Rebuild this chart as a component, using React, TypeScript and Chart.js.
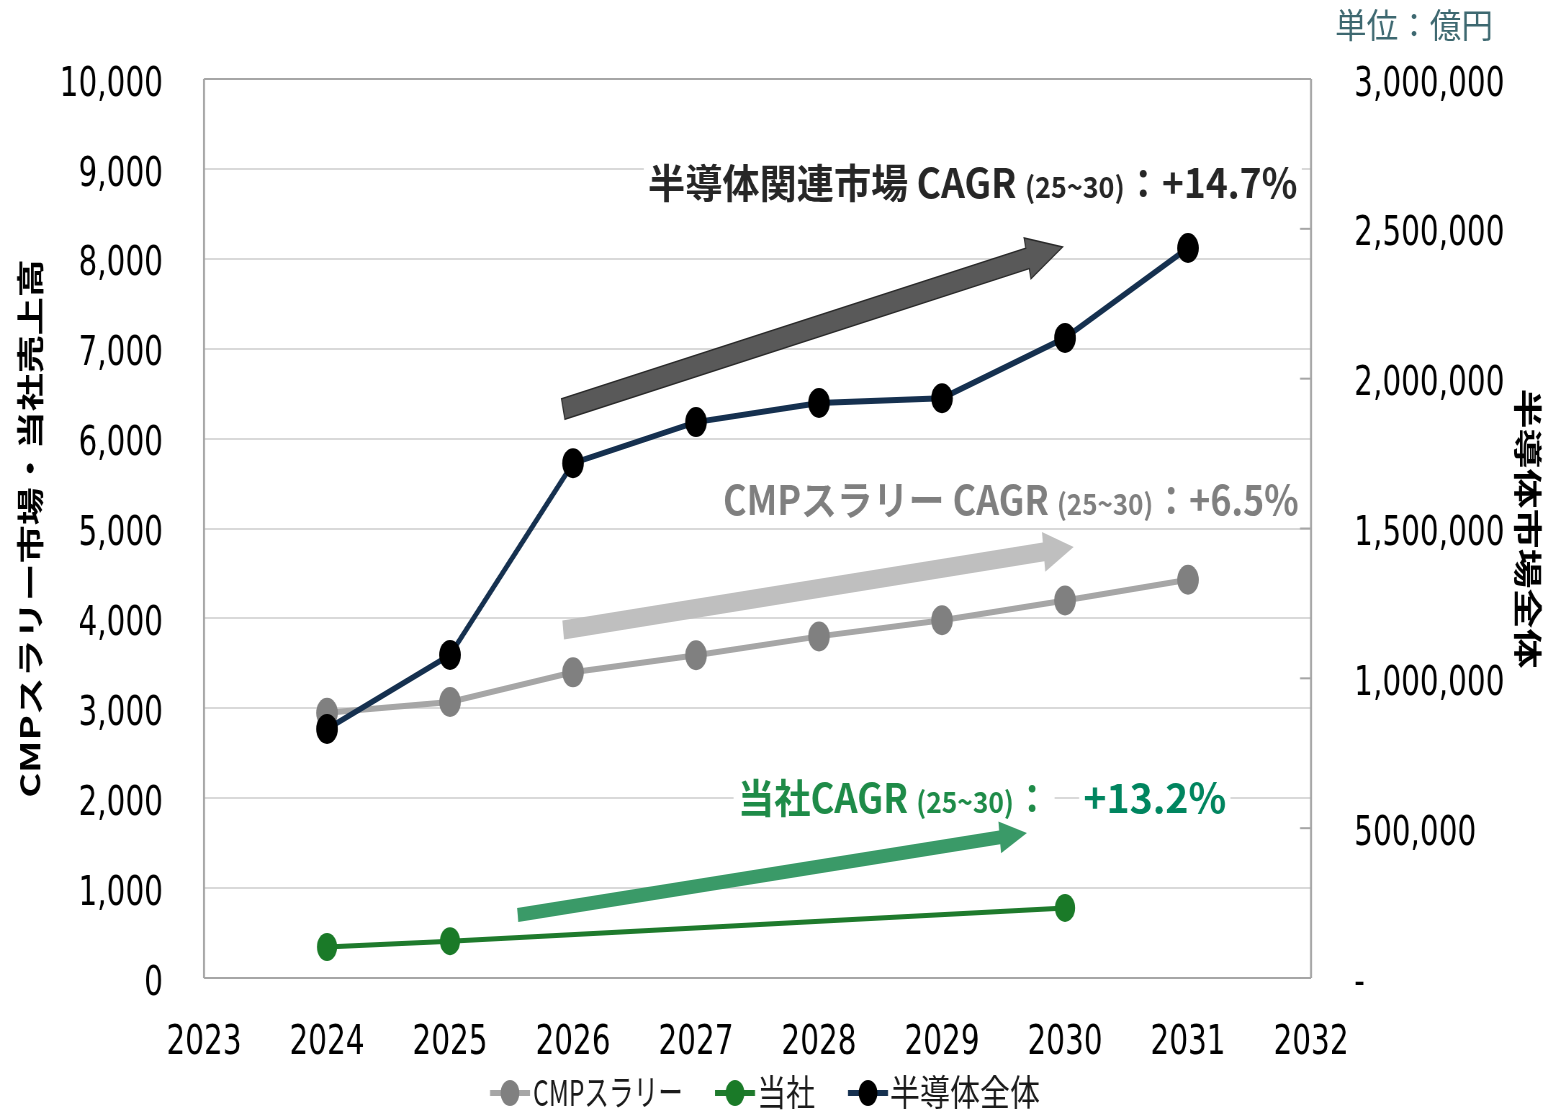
import React, { useEffect, useRef } from 'react';
import { Chart, registerables } from 'chart.js';

Chart.register(...registerables);

// ---------------- data ----------------
const years = [2024, 2025, 2026, 2027, 2028, 2029, 2030, 2031];
const cmpSlurry = [2950, 3070, 3400, 3590, 3800, 3980, 4200, 4430];
const companyYears = [2024, 2025, 2030];
const companySales = [345, 410, 780];
const semiconductorTotal = [831000, 1078000, 1718000, 1855000, 1919000, 1935000, 2136000, 2436000];

const seriesNames = ['CMPスラリー', '当社', '半導体全体'];
const xRange = [2023, 2032];
const leftRange = [0, 10000];
const leftStep = 1000;
const rightRange = [0, 3000000];
const rightStep = 500000;
const leftTitle = 'CMPスラリー市場・当社売上高';
const rightTitle = '半導体市場全体';
const unitLabel = '単位：億円';
const cagrPeriod = '(25~30)';
const cagrSemi = '：+14.7%';
const cagrCmp = '：+6.5%';
const cagrCompany = '+13.2%';

// ---------------- layout helpers ----------------
const SX = 0.72; // horizontal condensation of the whole picture
const W = Math.round(1544 / SX);
const H = 1111;
const px = (d: number) => d / SX; // displayed px -> canvas px (x only)

const CJK = '"Noto Sans CJK JP", "Noto Sans", sans-serif';
const NUM = '"DejaVu Sans", "Noto Sans", sans-serif';

type Seg = { text: string; size: number; weight: string; color: string };

function drawRun(ctx: CanvasRenderingContext2D, segs: Seg[], xl: number, xr: number, yc: number, bg: boolean) {
  let total = 0;
  const widths: number[] = [];
  let maxSize = 0;
  segs.forEach((s) => {
    ctx.font = `${s.weight} ${s.size}px ${CJK}`;
    const w = ctx.measureText(s.text).width;
    widths.push(w);
    total += w;
    maxSize = Math.max(maxSize, s.size);
  });
  const k = (xr - xl) / total;
  if (bg) {
    ctx.fillStyle = '#ffffff';
    ctx.fillRect(xl - 6, yc - maxSize * 0.55, xr - xl + 12, maxSize * 1.1);
  }
  const base = yc + maxSize * 0.37;
  ctx.save();
  ctx.translate(xl, base);
  ctx.scale(k, 1);
  let x = 0;
  segs.forEach((s, i) => {
    ctx.font = `${s.weight} ${s.size}px ${CJK}`;
    ctx.fillStyle = s.color;
    ctx.textBaseline = 'alphabetic';
    ctx.textAlign = 'left';
    ctx.fillText(s.text, x, 0);
    x += widths[i];
  });
  ctx.restore();
}

function drawArrow(
  ctx: CanvasRenderingContext2D,
  x0: number, y0: number, x1: number, y1: number,
  sw: number, hw: number, hl: number, fill: string, stroke?: string
) {
  const dx = x1 - x0, dy = y1 - y0;
  const L = Math.hypot(dx, dy);
  const ux = dx / L, uy = dy / L;
  const nx = -uy, ny = ux;
  const bx = x1 - ux * hl, by = y1 - uy * hl;
  ctx.beginPath();
  ctx.moveTo(x0 + nx * sw / 2, y0 + ny * sw / 2);
  ctx.lineTo(bx + nx * sw / 2, by + ny * sw / 2);
  ctx.lineTo(bx + nx * hw / 2, by + ny * hw / 2);
  ctx.lineTo(x1, y1);
  ctx.lineTo(bx - nx * hw / 2, by - ny * hw / 2);
  ctx.lineTo(bx - nx * sw / 2, by - ny * sw / 2);
  ctx.lineTo(x0 - nx * sw / 2, y0 - ny * sw / 2);
  ctx.closePath();
  ctx.fillStyle = fill;
  ctx.fill();
  if (stroke) {
    ctx.strokeStyle = stroke;
    ctx.lineWidth = 1.5;
    ctx.stroke();
  }
}

const seriesColors = [
  { line: '#a6a6a6', point: '#808080' },
  { line: '#1e7a2c', point: '#1a7a28' },
  { line: '#15304f', point: '#000000' },
];

const overlayPlugin = {
  id: 'overlay',
  beforeDatasetsDraw(chart: any) {
    const { ctx, chartArea: ca, scales } = chart;
    const xs = scales.x, ys = scales.y, yr = scales.y1;
    const X = (v: number) => xs.getPixelForValue(v);
    const Y = (v: number) => ys.getPixelForValue(v);
    ctx.save();
    // frame
    ctx.strokeStyle = '#a6a6a6';
    ctx.lineWidth = 2;
    ctx.beginPath();
    ctx.moveTo(ca.left, ca.top); ctx.lineTo(ca.right, ca.top);
    ctx.moveTo(ca.left, ca.bottom); ctx.lineTo(ca.right, ca.bottom);
    ctx.stroke();
    ctx.lineWidth = 2.8;
    ctx.beginPath();
    ctx.moveTo(ca.left, ca.top); ctx.lineTo(ca.left, ca.bottom);
    ctx.moveTo(ca.right, ca.top); ctx.lineTo(ca.right, ca.bottom);
    ctx.stroke();
    // inward tick marks for right axis
    ctx.lineWidth = 2;
    yr.ticks.forEach((t: any) => {
      const yy = yr.getPixelForValue(t.value);
      ctx.beginPath();
      ctx.moveTo(ca.right - px(11), yy);
      ctx.lineTo(ca.right, yy);
      ctx.stroke();
    });

    // trend arrows (in data coordinates of x / left axis)
    drawArrow(ctx, X(2025.92), Y(6329), X(2029.98), Y(8131), 21, 42, 50, '#595959', '#2a2a2a');
    drawArrow(ctx, X(2025.92), Y(3871), X(2030.07), Y(4794), 19, 40, 42, '#bfbfbf');
    drawArrow(ctx, X(2025.55), Y(701), X(2029.69), Y(1613), 14, 32, 38, '#3a9a68');

    // CAGR labels
    drawRun(ctx, [
      { text: '半導体関連市場 CAGR ', size: 40, weight: 'bold', color: '#262626' },
      { text: cagrPeriod, size: 29, weight: 'bold', color: '#262626' },
      { text: cagrSemi, size: 40, weight: 'bold', color: '#262626' },
    ], X(2026.61), X(2031.89), Y(8843), true);
    drawRun(ctx, [
      { text: 'CMPスラリー CAGR ', size: 40, weight: 'bold', color: '#7f7f7f' },
      { text: cagrPeriod, size: 29, weight: 'bold', color: '#7f7f7f' },
      { text: cagrCmp, size: 40, weight: 'bold', color: '#7f7f7f' },
    ], X(2027.22), X(2031.9), Y(5317), false);
    drawRun(ctx, [
      { text: '当社CAGR ', size: 40, weight: 'bold', color: '#1e8b48' },
      { text: cagrPeriod, size: 29, weight: 'bold', color: '#1e8b48' },
      { text: '：', size: 40, weight: 'bold', color: '#1e8b48' },
    ], X(2027.34), X(2029.88), Y(2002), true);
    drawRun(ctx, [
      { text: cagrCompany, size: 40, weight: 'bold', color: '#00855f' },
    ], X(2030.15), X(2031.31), Y(2002), true);
    ctx.restore();
  },
  afterDraw(chart: any) {
    const { ctx } = chart;
    ctx.save();
    // unit label
    drawRun(ctx, [{ text: unitLabel, size: 34, weight: 'normal', color: '#3d6870' }], px(1335), px(1493), 25, false);
    // legend
    const items = [
      { m0: 490, t0: 533, t1: 683 },
      { m0: 715, t0: 757, t1: 815 },
      { m0: 848, t0: 890, t1: 1040 },
    ];
    const ly = 1093;
    items.forEach((it, i) => {
      const c = seriesColors[i];
      ctx.strokeStyle = c.line;
      ctx.lineWidth = 6;
      ctx.beginPath();
      ctx.moveTo(px(it.m0), ly);
      ctx.lineTo(px(it.m0 + 40), ly);
      ctx.stroke();
      ctx.fillStyle = c.point;
      ctx.beginPath();
      ctx.arc(px(it.m0 + 20), ly, 13, 0, Math.PI * 2);
      ctx.fill();
      drawRun(ctx, [{ text: seriesNames[i], size: 36, weight: 'normal', color: '#1a1a1a' }], px(it.t0), px(it.t1), ly, false);
    });
    ctx.restore();
  },
};

const tickFont = { family: NUM, size: 41 };
// a 12px line height with an empty first line nudges value labels 6px below their tick line
const yTickFont = { family: NUM, size: 41, lineHeight: '12px' };

export default function App() {
  const ref = useRef<HTMLCanvasElement>(null);
  useEffect(() => {
    if (!ref.current) return;
    const chart = new Chart(ref.current, {
      type: 'line',
      data: {
        datasets: [
          {
            label: seriesNames[2],
            data: years.map((x, i) => ({ x, y: semiconductorTotal[i] })),
            yAxisID: 'y1',
            borderColor: seriesColors[2].line,
            borderWidth: 6,
            pointRadius: 15,
            pointBackgroundColor: seriesColors[2].point,
            pointBorderColor: seriesColors[2].point,
            pointBorderWidth: 0,
            tension: 0,
            order: 1,
          },
          {
            label: seriesNames[1],
            data: companyYears.map((x, i) => ({ x, y: companySales[i] })),
            yAxisID: 'y',
            borderColor: seriesColors[1].line,
            borderWidth: 5,
            pointRadius: 14,
            pointBackgroundColor: seriesColors[1].point,
            pointBorderColor: seriesColors[1].point,
            pointBorderWidth: 0,
            tension: 0,
            order: 2,
          },
          {
            label: seriesNames[0],
            data: years.map((x, i) => ({ x, y: cmpSlurry[i] })),
            yAxisID: 'y',
            borderColor: seriesColors[0].line,
            borderWidth: 6,
            pointRadius: 15,
            pointBackgroundColor: seriesColors[0].point,
            pointBorderColor: seriesColors[0].point,
            pointBorderWidth: 0,
            tension: 0,
            order: 3,
          },
        ],
      },
      options: {
        animation: false,
        responsive: false,
        maintainAspectRatio: false,
        devicePixelRatio: 1,
        layout: { padding: { top: 79, left: 0, right: 0, bottom: 0 } },
        plugins: { legend: { display: false }, tooltip: { enabled: false } },
        scales: {
          x: {
            type: 'linear',
            position: 'bottom',
            min: xRange[0],
            max: xRange[1],
            ticks: { stepSize: 1, font: tickFont, color: '#000', padding: 41, callback: (v: any) => String(v) },
            grid: { display: false, drawTicks: false },
            border: { display: false },
            afterFit: (s: any) => { s.height = H - 978; },
          },
          y: {
            type: 'linear',
            position: 'left',
            min: leftRange[0],
            max: leftRange[1],
            ticks: { stepSize: leftStep, font: yTickFont, color: '#000', padding: 4, callback: (v: any) => ['', Number(v).toLocaleString('en-US')] },
            grid: { color: '#d9d9d9', lineWidth: 2, drawTicks: true, tickLength: 53, tickColor: 'rgba(0,0,0,0)' },
            border: { display: false },
            title: { display: true, text: leftTitle, color: '#000', font: { family: CJK, size: 38, weight: 'bold', lineHeight: 1.2 }, padding: { top: 19, bottom: 0 } },
            afterFit: (s: any) => { s.width = px(204); },
          },
          y1: {
            type: 'linear',
            position: 'right',
            min: rightRange[0],
            max: rightRange[1],
            ticks: { stepSize: rightStep, font: yTickFont, color: '#000', padding: 4, callback: (v: any) => ['', Number(v) === 0 ? '-' : Number(v).toLocaleString('en-US')] },
            grid: { display: true, drawOnChartArea: false, drawTicks: true, tickLength: 56, tickColor: 'rgba(0,0,0,0)' },
            border: { display: false },
            title: { display: true, text: rightTitle, color: '#000', font: { family: CJK, size: 40, weight: 'bold', lineHeight: 1.1 }, padding: { top: 0, bottom: 0 } },
            afterFit: (s: any) => { s.width = W - px(1311); },
          },
        },
      } as any,
      plugins: [overlayPlugin],
    });
    return () => chart.destroy();
  }, []);
  return (
    <div style={{ position: 'absolute', left: 0, top: 0, width: 1544, height: H, overflow: 'hidden', background: '#fff' }}>
      <div style={{ width: W, height: H, transform: `scaleX(${SX})`, transformOrigin: '0 0' }}>
        <canvas ref={ref} width={W} height={H} style={{ display: 'block', width: W, height: H }} />
      </div>
    </div>
  );
}
